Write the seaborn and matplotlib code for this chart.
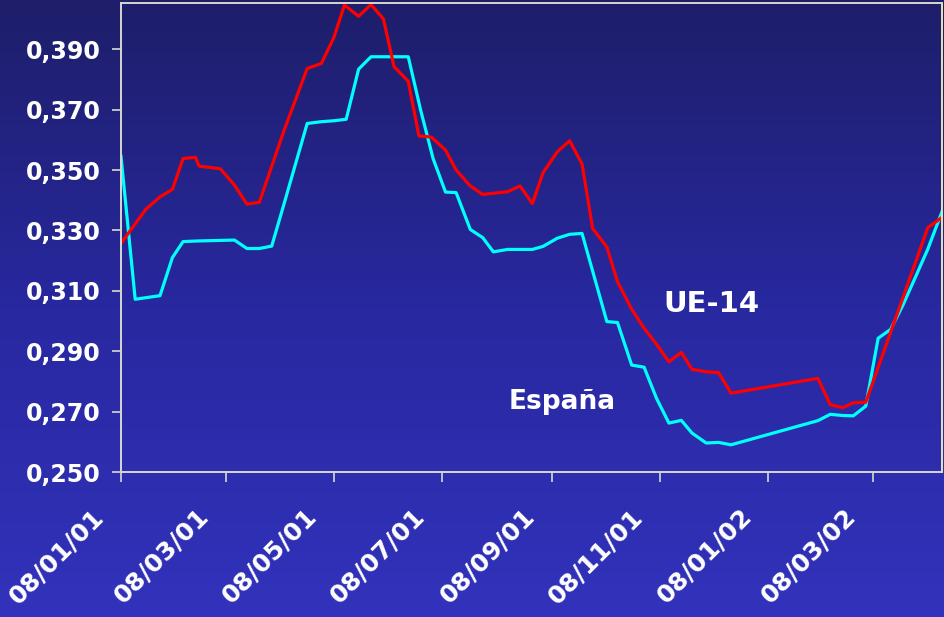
import numpy as np
import pandas as pd
import matplotlib
matplotlib.use("Agg")
import matplotlib.pyplot as plt
import matplotlib.dates as mdates
import matplotlib.transforms as mtransforms
from matplotlib.colors import LinearSegmentedColormap
from matplotlib.ticker import FixedLocator, FixedFormatter
import seaborn as sns

# ---------------- data ----------------
ue14_dates = ["2001-01-08", "2001-01-22", "2001-01-30", "2001-02-06", "2001-02-12",
              "2001-02-19", "2001-02-21", "2001-03-05", "2001-03-13", "2001-03-20",
              "2001-03-27", "2001-04-10", "2001-04-23", "2001-05-01", "2001-05-08",
              "2001-05-14", "2001-05-22", "2001-05-29", "2001-06-05", "2001-06-11",
              "2001-06-19", "2001-06-25", "2001-07-02", "2001-07-10", "2001-07-16",
              "2001-07-24", "2001-07-31", "2001-08-06", "2001-08-14", "2001-08-21",
              "2001-08-28", "2001-09-03", "2001-09-11", "2001-09-18", "2001-09-25",
              "2001-10-01", "2001-10-09", "2001-10-15", "2001-10-23", "2001-10-30",
              "2001-11-06", "2001-11-13", "2001-11-20", "2001-11-26", "2001-12-04",
              "2001-12-11", "2001-12-18", "2002-02-05", "2002-02-12", "2002-02-19",
              "2002-02-25", "2002-03-04", "2002-04-08", "2002-04-16"]
ue14_values = [0.3257, 0.3370, 0.3411, 0.3436, 0.3538,
               0.3542, 0.3513, 0.3504, 0.3450, 0.3387,
               0.3393, 0.3632, 0.3836, 0.3853, 0.3938,
               0.4046, 0.4009, 0.4048, 0.4000, 0.3842,
               0.3794, 0.3613, 0.3609, 0.3566, 0.3500,
               0.3447, 0.3419, 0.3423, 0.3428, 0.3447,
               0.3389, 0.3491, 0.3560, 0.3597, 0.3520,
               0.3306, 0.3245, 0.3130, 0.3039, 0.2976,
               0.2923, 0.2865, 0.2896, 0.2840, 0.2832,
               0.2829, 0.2761, 0.2810, 0.2723, 0.2713,
               0.2729, 0.2731, 0.3309, 0.3343]

espana_dates = ["2001-01-08", "2001-01-16", "2001-01-30", "2001-02-06", "2001-02-12",
                "2001-02-20", "2001-03-13", "2001-03-20", "2001-03-27", "2001-04-03",
                "2001-04-10", "2001-04-23", "2001-05-01", "2001-05-08", "2001-05-15",
                "2001-05-22", "2001-05-29", "2001-06-19", "2001-06-26", "2001-07-03",
                "2001-07-10", "2001-07-16", "2001-07-24", "2001-07-31", "2001-08-06",
                "2001-08-14", "2001-08-28", "2001-09-03", "2001-09-11", "2001-09-18",
                "2001-09-25", "2001-10-09", "2001-10-15", "2001-10-23", "2001-10-30",
                "2001-11-06", "2001-11-13", "2001-11-20", "2001-11-26", "2001-12-04",
                "2001-12-11", "2001-12-18", "2002-02-05", "2002-02-12", "2002-02-19",
                "2002-02-25", "2002-03-04", "2002-03-11", "2002-03-18", "2002-03-25",
                "2002-04-01", "2002-04-08", "2002-04-16"]
espana_values = [0.3545, 0.3072, 0.3084, 0.3210, 0.3263,
                 0.3265, 0.3268, 0.3240, 0.3240, 0.3248,
                 0.3389, 0.3654, 0.3660, 0.3663, 0.3668,
                 0.3834, 0.3875, 0.3875, 0.3698, 0.3538,
                 0.3427, 0.3425, 0.3303, 0.3276, 0.3229,
                 0.3237, 0.3237, 0.3247, 0.3274, 0.3287,
                 0.3290, 0.2998, 0.2995, 0.2854, 0.2847,
                 0.2744, 0.2662, 0.2671, 0.2629, 0.2596,
                 0.2598, 0.2590, 0.2670, 0.2691, 0.2687,
                 0.2686, 0.2718, 0.2943, 0.2972, 0.3053,
                 0.3145, 0.3238, 0.3362]

series_names = ["UE-14", "España"]
series_colors = ["#ff0000", "#00ffff"]

x_tick_dates = ["2001-01-08", "2001-03-08", "2001-05-08", "2001-07-08",
                "2001-09-08", "2001-11-08", "2002-01-08", "2002-03-08"]
x_tick_labels = ["08/01/01", "08/03/01", "08/05/01", "08/07/01",
                 "08/09/01", "08/11/01", "08/01/02", "08/03/02"]
y_ticks = [0.250, 0.270, 0.290, 0.310, 0.330, 0.350, 0.370, 0.390]
y_tick_labels = ["0,250", "0,270", "0,290", "0,310", "0,330", "0,350", "0,370", "0,390"]

# ---------------- build frame ----------------
df = pd.concat([
    pd.DataFrame({"fecha": pd.to_datetime(ue14_dates), "valor": ue14_values, "serie": series_names[0]}),
    pd.DataFrame({"fecha": pd.to_datetime(espana_dates), "valor": espana_values, "serie": series_names[1]}),
], ignore_index=True)

# ---------------- figure ----------------
fig = plt.figure(figsize=(9.45, 6.17), dpi=100)

bg = fig.add_axes([0, 0, 1, 1], zorder=0)
grad = np.linspace(0, 1, 256).reshape(-1, 1)
cmap = LinearSegmentedColormap.from_list("bg", ["#1e1e6a", "#2828a0", "#3232bc"])
bg.imshow(grad, aspect="auto", cmap=cmap, extent=[0, 1, 0, 1], origin="upper")
bg.axis("off")

ax = fig.add_axes([121 / 945, 1 - 472 / 617, (942 - 121) / 945, (472 - 3) / 617], zorder=1)
ax.patch.set_alpha(0)

sns.lineplot(data=df, x="fecha", y="valor", hue="serie",
             palette=dict(zip(series_names, series_colors)),
             hue_order=series_names[::-1],
             estimator=None, legend=False, linewidth=2.3, ax=ax)

ax.set_xlim(pd.Timestamp("2001-01-08"), pd.Timestamp("2002-04-16"))
ax.set_ylim(0.250, 0.4053)

ax.xaxis.set_major_locator(FixedLocator(mdates.date2num(pd.to_datetime(x_tick_dates))))
ax.xaxis.set_major_formatter(FixedFormatter(x_tick_labels))
ax.yaxis.set_major_locator(FixedLocator(y_ticks))
ax.yaxis.set_major_formatter(FixedFormatter(y_tick_labels))

ax.set_xlabel("")
ax.set_ylabel("")

for s in ["left", "bottom", "top"]:
    ax.spines[s].set_color("#d8d8d0")
    ax.spines[s].set_linewidth(1.4)
ax.spines["right"].set_color("#e8e8a8")
ax.spines["right"].set_linewidth(1.4)

ax.tick_params(axis="y", direction="out", length=6.5, width=1.2, color="#d8d8d0",
               labelcolor="white", labelsize=17, pad=8)
ax.tick_params(axis="x", direction="out", length=7.5, width=1.2, color="#d8d8d0",
               labelcolor="white", labelsize=18, pad=10)
for lab in ax.get_yticklabels():
    lab.set_fontweight("bold")
offset = mtransforms.ScaledTranslation(-29 / 100, -8 / 100, fig.dpi_scale_trans)
for lab in ax.get_xticklabels():
    lab.set_fontweight("bold")
    lab.set_rotation(45)
    lab.set_ha("right")
    lab.set_va("top")
    lab.set_rotation_mode("anchor")
    lab.set_transform(lab.get_transform() + offset)

ax.text(0.7186, 0.358, "UE-14", transform=ax.transAxes, color="white",
        fontsize=21, fontweight="bold", ha="center", va="center")
ax.text(0.537, 0.149, "España", transform=ax.transAxes, color="white",
        fontsize=19, fontweight="bold", ha="center", va="center")

fig.savefig("out.png", dpi=100)
